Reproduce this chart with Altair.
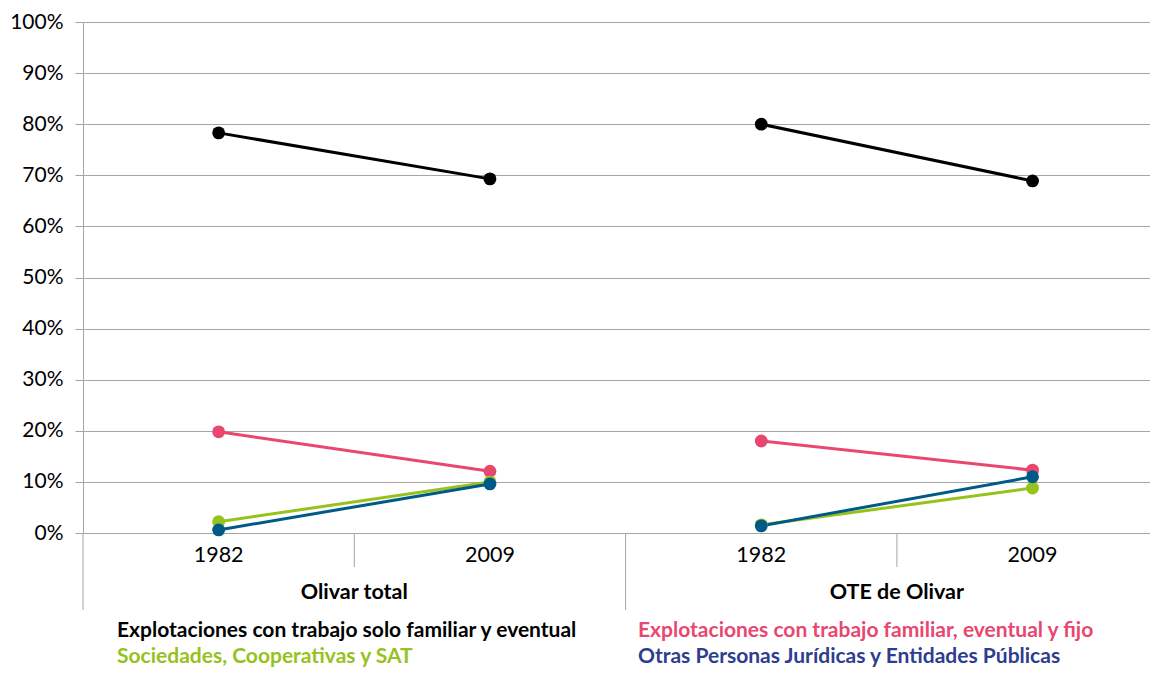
import altair as alt
import pandas as pd

# ---- data ----
groups = ["Olivar total", "OTE de Olivar"]
years = ["1982", "2009"]
series = [
    "Explotaciones con trabajo solo familiar y eventual",
    "Explotaciones con trabajo familiar, eventual y fijo",
    "Sociedades, Cooperativas y SAT",
    "Otras Personas Jurídicas y Entidades Públicas",
]
line_colors = ["#000000", "#E8476F", "#97C21E", "#005A87"]
legend_colors = ["#000000", "#E8476F", "#97C21E", "#2E3D8F"]

# values per series: [Olivar 1982, Olivar 2009, OTE 1982, OTE 2009] (%)
solo_familiar = [78.3, 69.3, 80.0, 68.9]
familiar_fijo = [19.8, 12.1, 18.0, 12.3]
sociedades = [2.2, 10.0, 1.6, 8.8]
otras = [0.6, 9.6, 1.4, 11.0]
all_values = [solo_familiar, familiar_fijo, sociedades, otras]

rows = []
for si, s in enumerate(series):
    for gi, g in enumerate(groups):
        for yi, y in enumerate(years):
            rows.append({"series": s, "group": g, "year": y,
                         "pos": gi * 2 + yi + 0.5,
                         "value": all_values[si][gi * 2 + yi]})
df = pd.DataFrame(rows)

# ---- layout ----
W, H = 1067, 511
BAND = 271.3                 # pixels per category
XMAX = W / BAND
PX_PER_PCT = H / 100.0
FONT = "Lato"
GRID = "#A6A6A6"


def below(px):
    """offset below the 0% line, in y data units"""
    return -px / PX_PER_PCT


base = alt.Chart(df)

xenc = alt.X("pos:Q", scale=alt.Scale(domain=[0, XMAX], nice=False, zero=False), axis=None)
yenc = alt.Y("value:Q", scale=alt.Scale(domain=[0, 100], nice=False),
             axis=alt.Axis(values=list(range(0, 101, 10)), labelExpr="datum.value + '%'",
                           gridColor=GRID, domainColor=GRID, tickColor=GRID,
                           tickSize=8, labelFontSize=21, labelFont=FONT, labelColor="#000000",
                           labelPadding=12, title=None))
color = alt.Color("series:N", scale=alt.Scale(domain=series, range=line_colors), legend=None)

lines = base.mark_line(strokeWidth=3).encode(x=xenc, y=yenc, color=color, detail="group:N")
points = base.mark_circle(size=165, opacity=1).encode(x=xenc, y=yenc, color=color)

first = base.transform_filter(alt.datum.series == series[0])
grp = first.transform_aggregate(gpos="mean(pos)", groupby=["group"])

seps = grp.transform_calculate(
    spos="datum.gpos - 1", y0="0", y1=str(below(77))
).mark_rule(color=GRID, strokeWidth=1).encode(
    x=alt.X("spos:Q", axis=None), y=alt.Y("y0:Q", title=None), y2="y1:Q")
mids = grp.transform_calculate(
    y0="0", y1=str(below(34))
).mark_rule(color=GRID, strokeWidth=1).encode(
    x=alt.X("gpos:Q", axis=None), y=alt.Y("y0:Q", title=None), y2="y1:Q")

year_txt = first.transform_calculate(ty=str(below(23))).mark_text(
    fontSize=21.5, font=FONT, color="#000000", baseline="middle").encode(
    x=alt.X("pos:Q", axis=None), y=alt.Y("ty:Q", title=None), text="year:N")
group_txt = grp.transform_calculate(ty=str(below(60))).mark_text(
    fontSize=21.5, font=FONT, fontWeight="bold", color="#000000", baseline="middle").encode(
    x=alt.X("gpos:Q", axis=None), y=alt.Y("ty:Q", title=None), text="group:N")

leg_x = [34 / BAND, 555 / BAND]
leg_y = [below(98), below(124)]
legend_layers = []
for i, c in enumerate(legend_colors):
    legend_layers.append(
        base.transform_filter(
            (alt.datum.series == series[i]) & (alt.datum.group == groups[0]) & (alt.datum.year == years[0])
        ).transform_calculate(lx=str(leg_x[i % 2]), ly=str(leg_y[i // 2])).mark_text(
            fontSize=21, font=FONT, fontWeight="bold", color=c, align="left", baseline="middle"
        ).encode(x=alt.X("lx:Q", axis=None), y=alt.Y("ly:Q", title=None), text="series:N")
    )

chart = alt.layer(lines, points, seps, mids, year_txt, group_txt, *legend_layers).properties(
    width=W, height=H,
    padding={"left": 75, "top": 14, "right": 0, "bottom": 661 - 14 - H},
    autosize=alt.AutoSizeParams(type="none"),
).configure_view(stroke=None)

chart.save("out.html", embed_options={"renderer": "svg", "actions": False})
